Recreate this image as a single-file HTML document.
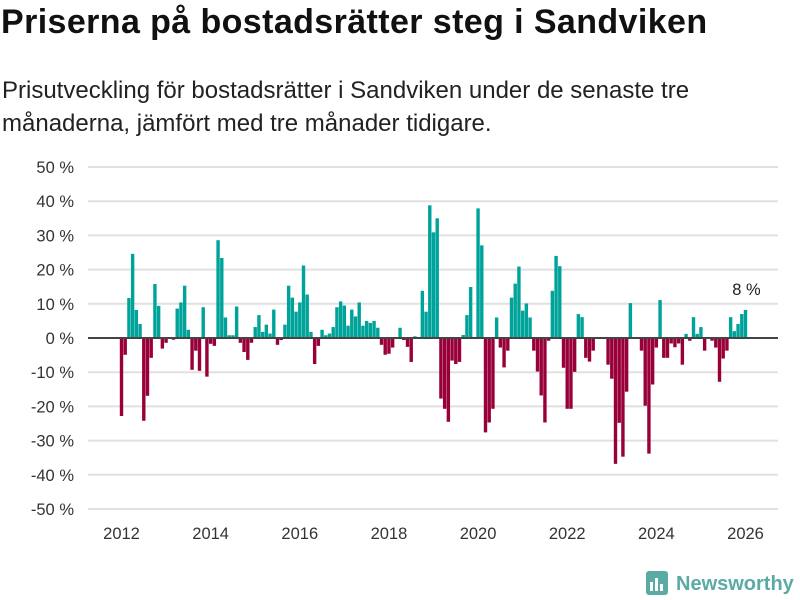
<!DOCTYPE html>
<html><head><meta charset="utf-8"><style>
body{margin:0;width:800px;height:600px;background:#fff;font-family:"Liberation Sans","DejaVu Sans",sans-serif;color:#111;overflow:hidden;position:relative}
h1{position:absolute;left:1px;top:3px;margin:0;font-size:34px;font-weight:bold;letter-spacing:0.4px}
p{position:absolute;left:2px;top:74px;margin:0;font-size:24px;line-height:33px;color:#222;width:720px}
svg{position:absolute;left:0;top:0}
</style></head><body>
<h1>Priserna på bostadsrätter steg i Sandviken</h1>
<p>Prisutveckling för bostadsrätter i Sandviken under de senaste tre månaderna, jämfört med tre månader tidigare.</p>
<svg id="c" width="800" height="600"></svg>
<script>
const values=[-22.8,-4.9,11.7,24.6,8.2,4.1,-24.2,-16.9,-5.8,15.8,9.4,-3.1,-1.4,0,-0.5,8.6,10.4,15.3,2.4,-9.3,-3.7,-9.6,9.0,-11.3,-1.7,-2.3,28.6,23.4,6.0,
0.8,0.8,9.2,-1.4,-4.1,-6.4,-1.4,3.2,6.7,1.8,3.9,1.3,8.3,-2.0,-0.6,3.9,15.3,11.8,7.7,10.4,21.2,12.7,1.8,-7.6,-2.3,2.4,0.8,1.3,3.2,
9.0,10.7,9.5,3.6,8.3,6.3,10.4,3.6,5.0,4.4,5.0,3.0,-2.0,-4.9,-4.6,-2.8,0,3.0,-0.6,-2.6,-7.0,0.5,0,13.8,7.7,38.8,30.9,35.0,-17.7,-20.7,-24.5,
-6.6,-7.6,-7.0,0.9,6.7,14.9,0,37.9,27.1,-27.6,-24.7,-20.7,6.0,-2.8,-8.6,-3.7,11.8,15.9,20.9,8.0,10.1,6.0,-3.7,-9.8,-16.8,-24.7,-0.8,13.8,
24,21,-8.7,-20.7,-20.7,-9.9,7.0,6.1,-5.8,-6.9,-3.7,0,0,0,-7.8,-11.9,-36.8,-24.8,-34.7,-15.7,10.2,0,0,-3.7,-19.8,-33.8,-13.6,-2.8,11.1,-5.8,
-5.8,-1.6,-2.7,-1.6,-7.8,1.2,-0.8,6.1,1.2,3.2,-3.7,0,-0.8,-2.8,-12.8,-6.0,-3.7,6.1,2.0,4.1,7.0,8.2];
const startYear=2012;
const yTicks=[50,40,30,20,10,0,-10,-20,-30,-40,-50];
const xTickYears=[2012,2014,2016,2018,2020,2022,2024,2026];
const ns="http://www.w3.org/2000/svg",svg=document.getElementById('c');
const y=v=>338-v*3.42;
const x=i=>121.5+i*(624/168);
function mk(t,a){const e=document.createElementNS(ns,t);for(const k in a)e.setAttribute(k,a[k]);svg.appendChild(e);return e;}
yTicks.forEach(t=>{
 const g=mk('line',{x1:88,x2:778,y1:y(t),y2:y(t),stroke:'#e0e0e0','stroke-width':2});
 
 
 const l=mk('text',{x:74,y:y(t)+6,'text-anchor':'end','font-size':16.5,fill:'#333'});
 l.textContent=t+' %';
 
 
});
values.forEach((v,i)=>{
 const r=mk('rect',{x:x(i)-1.7,width:3.4,y:Math.min(y(v),338),height:Math.abs(y(v)-338),fill:v>=0?'#00a39a':'#99003a'});
 
 
});
const z=mk('line',{x1:88,x2:778,y1:338,y2:338,stroke:'#444','stroke-width':2});


xTickYears.forEach(yr=>{
 const t=mk('text',{x:x((yr-startYear)*12),y:539,'text-anchor':'middle','font-size':16.5,fill:'#333'});
 t.textContent=yr;
 
 
});
const last=values.length-1;
const lab=mk('text',{x:x(last)+1,y:y(values[last])-15,'text-anchor':'middle','font-size':16.5,fill:'#222'});
lab.textContent=Math.round(values[last])+' %';


</script>
<svg width="800" height="600">
<rect x="646" y="571" width="22" height="24" rx="3" fill="#5aaba3"/>
<rect x="650" y="582" width="3" height="9" fill="#fff"/><rect x="655" y="578" width="3" height="13" fill="#fff"/><rect x="660" y="584" width="3" height="7" fill="#fff"/>
<text x="676" y="590" font-size="20" font-weight="bold" fill="#5aaba3" font-family="Liberation Sans, sans-serif">Newsworthy</text>
</svg>
</body></html>
